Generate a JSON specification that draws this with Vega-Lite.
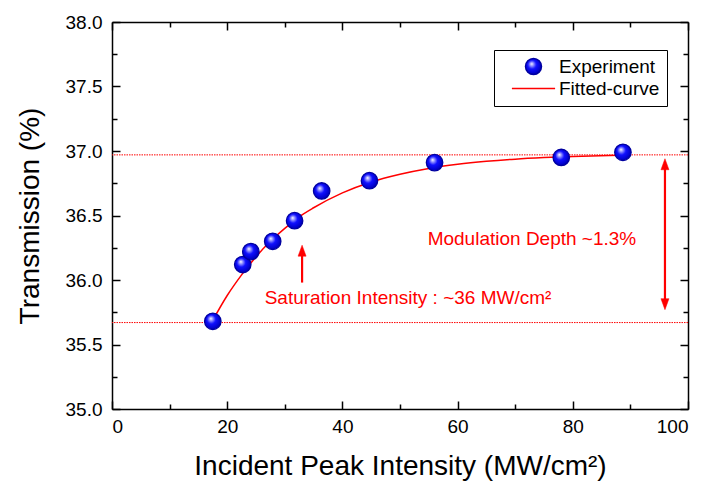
{
  "$schema": "https://vega.github.io/schema/vega-lite/v6.json",
  "width": 576,
  "height": 387,
  "autosize": {"type": "none"},
  "padding": {"left": 112, "top": 22, "right": 25, "bottom": 77},
  "background": "white",
  "config": {
    "view": {"stroke": null},
    "axis": {
      "grid": false,
      "domainColor": "#000",
      "domainWidth": 1.5,
      "tickColor": "#000",
      "tickWidth": 1.5,
      "labelFont": "Liberation Sans",
      "labelFontSize": 19,
      "labelColor": "#000",
      "titleFont": "Liberation Sans",
      "titleFontSize": 28,
      "titleFontWeight": "normal",
      "titleColor": "#000"
    },
    "text": {"font": "Liberation Sans"}
  },
  "datasets": {
    "experiment": [
      {"intensity": 17.5, "transmission": 35.68, "series": "Experiment"},
      {"intensity": 22.7, "transmission": 36.12, "series": "Experiment"},
      {"intensity": 24.1, "transmission": 36.22, "series": "Experiment"},
      {"intensity": 27.9, "transmission": 36.30, "series": "Experiment"},
      {"intensity": 31.7, "transmission": 36.46, "series": "Experiment"},
      {"intensity": 36.4, "transmission": 36.69, "series": "Experiment"},
      {"intensity": 44.7, "transmission": 36.77, "series": "Experiment"},
      {"intensity": 56.0, "transmission": 36.91, "series": "Experiment"},
      {"intensity": 78.0, "transmission": 36.95, "series": "Experiment"},
      {"intensity": 88.7, "transmission": 36.99, "series": "Experiment"}
    ],
    "fit": [
      {"intensity": 17.4, "transmission": 35.68, "series": "Fitted-curve"},
      {"intensity": 20, "transmission": 35.88, "series": "Fitted-curve"},
      {"intensity": 22.5, "transmission": 36.04, "series": "Fitted-curve"},
      {"intensity": 25, "transmission": 36.18, "series": "Fitted-curve"},
      {"intensity": 27.5, "transmission": 36.30, "series": "Fitted-curve"},
      {"intensity": 30, "transmission": 36.40, "series": "Fitted-curve"},
      {"intensity": 32.5, "transmission": 36.49, "series": "Fitted-curve"},
      {"intensity": 35, "transmission": 36.56, "series": "Fitted-curve"},
      {"intensity": 40, "transmission": 36.675, "series": "Fitted-curve"},
      {"intensity": 45, "transmission": 36.76, "series": "Fitted-curve"},
      {"intensity": 50, "transmission": 36.82, "series": "Fitted-curve"},
      {"intensity": 55, "transmission": 36.865, "series": "Fitted-curve"},
      {"intensity": 60, "transmission": 36.897, "series": "Fitted-curve"},
      {"intensity": 65, "transmission": 36.92, "series": "Fitted-curve"},
      {"intensity": 70, "transmission": 36.937, "series": "Fitted-curve"},
      {"intensity": 75, "transmission": 36.949, "series": "Fitted-curve"},
      {"intensity": 80, "transmission": 36.958, "series": "Fitted-curve"},
      {"intensity": 88, "transmission": 36.968, "series": "Fitted-curve"}
    ],
    "levels": [
      {"transmission": 36.97},
      {"transmission": 35.67}
    ],
    "arrows": [
      {"intensity": 33.0, "from": 35.98, "to": 36.24},
      {"intensity": 96.0, "from": 35.81, "to": 36.91}
    ],
    "tipsUp": [
      {"intensity": 33.0, "transmission": 36.27},
      {"intensity": 96.0, "transmission": 36.94}
    ],
    "tipsDown": [
      {"intensity": 96.0, "transmission": 35.77}
    ],
    "notes": [
      {"intensity": 26.5, "transmission": 35.86, "label": "Saturation Intensity : ~36 MW/cm²"},
      {"intensity": 54.8, "transmission": 36.32, "label": "Modulation Depth ~1.3%"}
    ]
  },
  "layer": [
    {
      "data": {"name": "levels"},
      "mark": {"type": "rule", "stroke": "#ff0000", "strokeWidth": 1, "strokeDash": [1.5, 1], "opacity": 1},
      "encoding": {
        "y": {"field": "transmission", "type": "quantitative", "scale": {"domain": [35, 38], "nice": false, "zero": false}, "axis": null}
      }
    },
    {
      "data": {"name": "fit"},
      "mark": {"type": "line", "strokeWidth": 1.5, "interpolate": "monotone"},
      "encoding": {
        "x": {"field": "intensity", "type": "quantitative", "scale": {"domain": [0, 100], "nice": false, "zero": false},
              "axis": {"orient": "bottom", "values": [0, 20, 40, 60, 80, 100], "format": "d", "tickSize": -8, "labelPadding": 16, "title": "Incident Peak Intensity (MW/cm²)", "titlePadding": 16}},
        "y": {"field": "transmission", "type": "quantitative", "scale": {"domain": [35, 38], "nice": false, "zero": false},
              "axis": {"orient": "left", "values": [35, 35.5, 36, 36.5, 37, 37.5, 38], "format": ".1f", "tickSize": -8, "labelPadding": 18, "title": "Transmission (%)", "titlePadding": 21}},
        "stroke": {
          "field": "series", "type": "nominal",
          "scale": {"domain": ["Experiment", "Fitted-curve"], "range": ["#0000a0", "#ff0000"]},
          "legend": {
            "orient": "none",
            "legendX": 382,
            "legendY": 28,
            "title": null
          }
        }
      }
    },
    {
      "data": {"name": "arrows"},
      "mark": {"type": "rule", "stroke": "#ff0000", "strokeWidth": 2.2, "opacity": 1},
      "encoding": {
        "x": {"field": "intensity", "type": "quantitative",
              "axis": {"orient": "bottom", "values": [10, 30, 50, 70, 90], "tickSize": -5, "labels": false, "domain": false, "title": null}},
        "y": {"field": "from", "type": "quantitative",
              "axis": {"orient": "left", "values": [35.25, 35.75, 36.25, 36.75, 37.25, 37.75], "tickSize": -5, "labels": false, "domain": false, "title": null}},
        "y2": {"field": "to"}
      }
    },
    {
      "data": {"name": "tipsUp"},
      "mark": {"type": "point", "filled": true, "fill": "#ff0000", "stroke": "#ff0000", "strokeWidth": 0.5, "opacity": 1, "size": 100, "shape": "M 0 0 L -0.8 2.2 L 0.8 2.2 Z"},
      "encoding": {
        "x": {"field": "intensity", "type": "quantitative",
              "axis": {"orient": "top", "values": [10, 30, 50, 70, 90], "tickSize": -5, "labels": false, "domain": false, "title": null}},
        "y": {"field": "transmission", "type": "quantitative",
              "axis": {"orient": "right", "values": [35.25, 35.75, 36.25, 36.75, 37.25, 37.75], "tickSize": -5, "labels": false, "domain": false, "title": null}}
      }
    },
    {
      "data": {"name": "tipsDown"},
      "mark": {"type": "point", "filled": true, "fill": "#ff0000", "stroke": "#ff0000", "strokeWidth": 0.5, "opacity": 1, "size": 100, "shape": "M 0 0 L -0.8 -2.2 L 0.8 -2.2 Z"},
      "encoding": {
        "x": {"field": "intensity", "type": "quantitative", "axis": null},
        "y": {"field": "transmission", "type": "quantitative", "axis": null}
      }
    },
    {
      "data": {"name": "notes"},
      "mark": {"type": "text", "color": "#ff0000", "fontSize": 19, "align": "left", "baseline": "middle", "font": "Liberation Sans"},
      "encoding": {
        "x": {"field": "intensity", "type": "quantitative", "axis": null},
        "y": {"field": "transmission", "type": "quantitative", "axis": null},
        "text": {"field": "label"}
      }
    },
    {
      "data": {"name": "experiment"},
      "mark": {
        "type": "point",
        "filled": true,
        "opacity": 1,
        "size": 270,
        "strokeWidth": 1.3,
        "fill": {
          "gradient": "radial",
          "x1": 0.38, "y1": 0.33, "r1": 0,
          "x2": 0.45, "y2": 0.45, "r2": 0.6,
          "stops": [
            {"offset": 0, "color": "#ffffff"},
            {"offset": 0.18, "color": "#9a9aff"},
            {"offset": 0.45, "color": "#1010ff"},
            {"offset": 0.85, "color": "#0000c8"},
            {"offset": 1, "color": "#00007a"}
          ]
        }
      },
      "encoding": {
        "x": {"field": "intensity", "type": "quantitative",
              "axis": {"orient": "top", "values": [0, 20, 40, 60, 80, 100], "tickSize": -8, "labels": false, "title": null}},
        "y": {"field": "transmission", "type": "quantitative",
              "axis": {"orient": "right", "values": [35, 35.5, 36, 36.5, 37, 37.5, 38], "tickSize": -8, "labels": false, "title": null}},
        "stroke": {"field": "series", "type": "nominal"},
        "shape": {
          "field": "series", "type": "nominal",
          "scale": {"domain": ["Experiment", "Fitted-curve"], "range": ["circle", "M -2.7 0 L 2.7 0"]},
          "legend": {
            "orient": "none",
            "legendX": 382,
            "legendY": 28,
            "title": null,
            "strokeColor": "#000",
            "fillColor": "#fff",
            "padding": 7,
            "cornerRadius": 0,
            "symbolSize": 256,
            "symbolOffset": 23,
            "labelOffset": 16,
            "labelFont": "Liberation Sans",
            "labelFontSize": 19,
            "labelColor": "#000",
            "rowPadding": 1
          }
        }
      }
    }
  ],
  "resolve": {"axis": {"x": "independent", "y": "independent"}}
}
